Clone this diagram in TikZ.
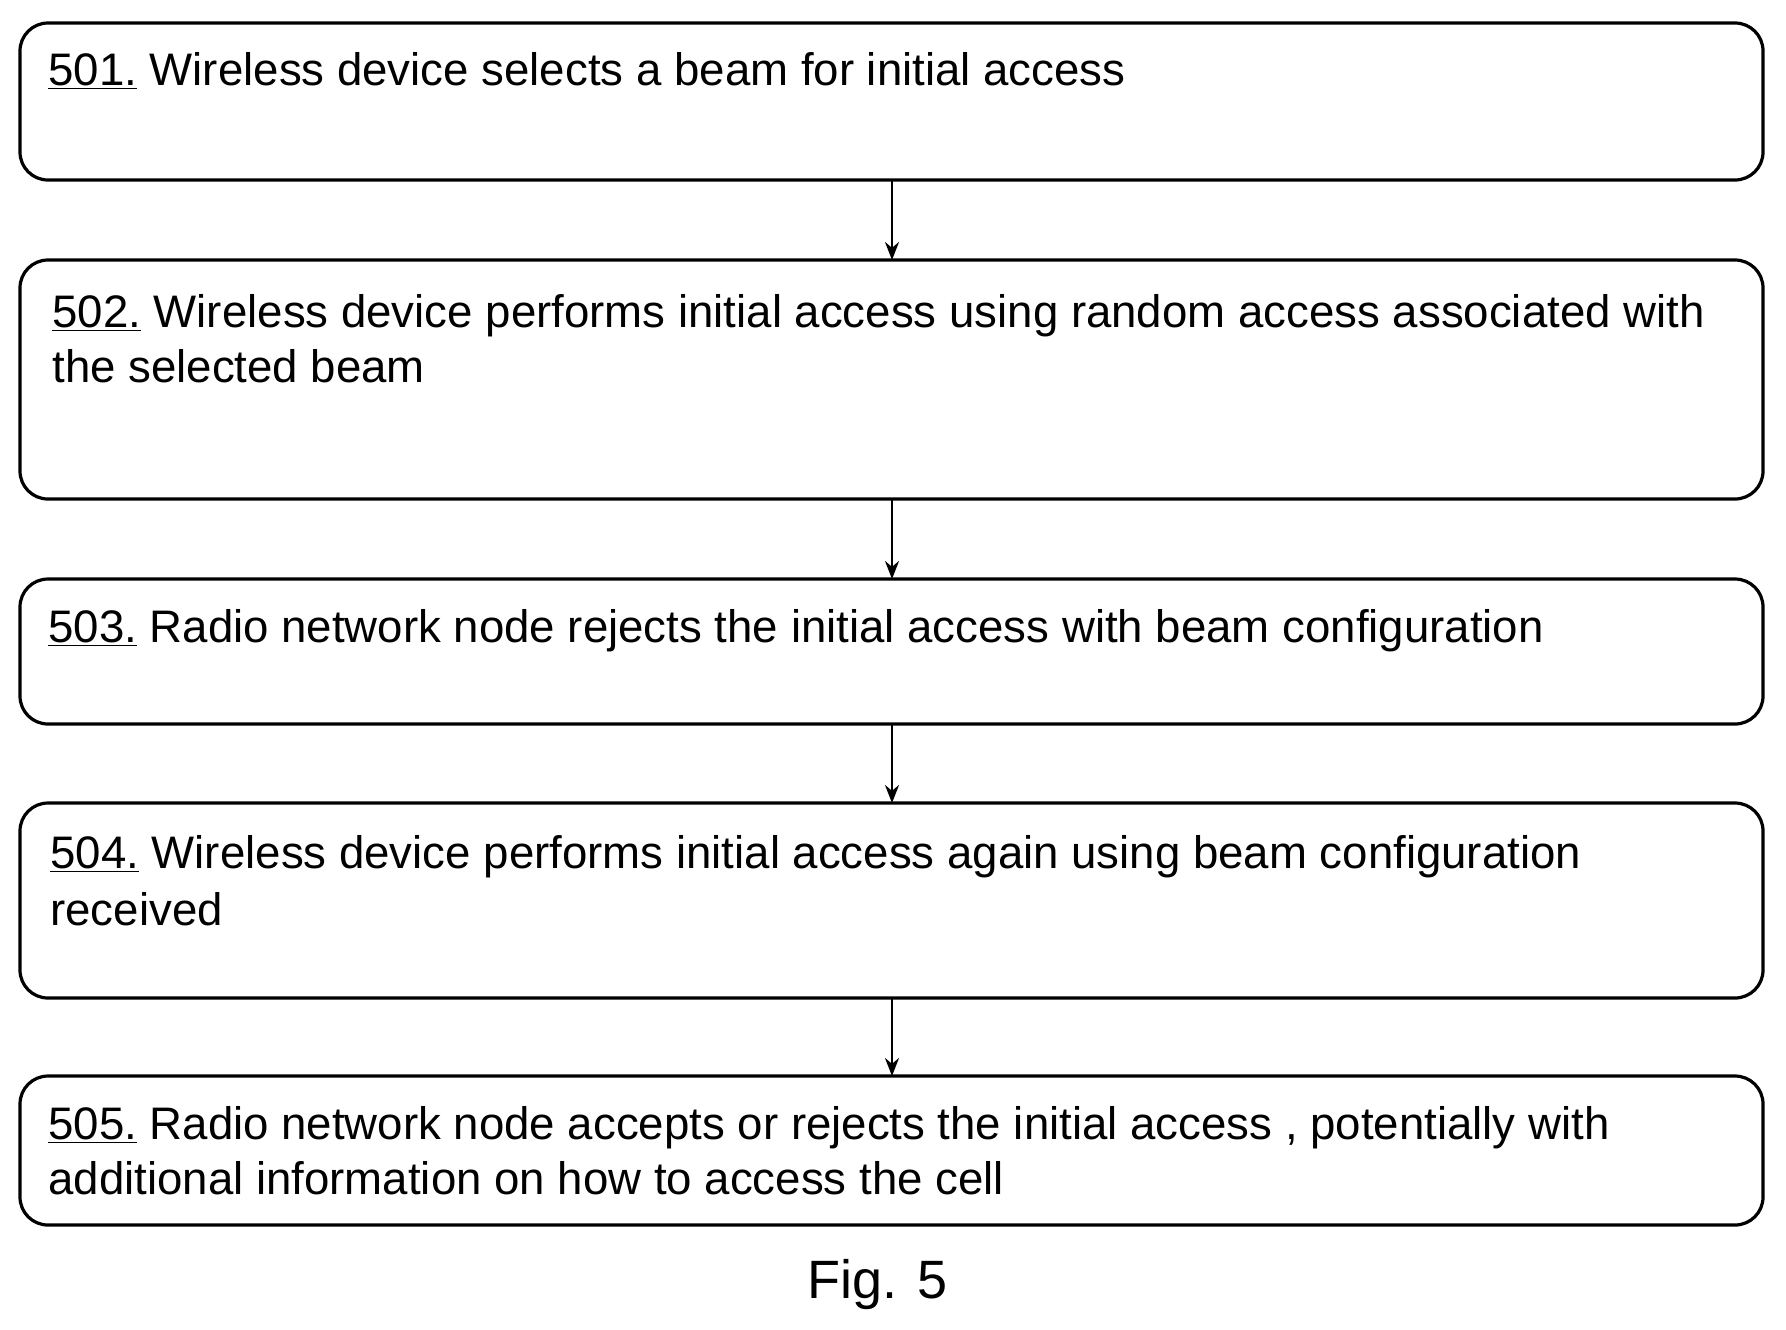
\documentclass[tikz,border=0pt]{standalone}
\usepackage{fontspec}
\setmainfont{Liberation Sans}
\usetikzlibrary{arrows.meta}
\begin{document}
\begin{tikzpicture}[x=0.5pt,y=-0.5pt,
  box/.style={draw,line width=1.6pt,rounded corners=14pt},
  txt/.style={anchor=base west,inner sep=0pt,font=\fontsize{22.8}{27.5}\selectfont},
  arr/.style={-{Stealth[length=9pt,width=7pt]},line width=1.3pt}]
\useasboundingbox (0,0) rectangle (1786,1329);
\draw[box] (20,23) rectangle (1763,180);
\draw[box] (20,260) rectangle (1763,499);
\draw[box] (20,579) rectangle (1763,724);
\draw[box] (20,803) rectangle (1763,998);
\draw[box] (20,1076) rectangle (1763,1225);
\coordinate (t1) at (892,180); \coordinate (h1) at (892,260);
\coordinate (t2) at (892,499); \coordinate (h2) at (892,579);
\coordinate (t3) at (892,724); \coordinate (h3) at (892,803);
\coordinate (t4) at (892,998); \coordinate (h4) at (892,1076);
\draw[arr] (t1) -- (h1);
\draw[arr] (t2) -- (h2);
\draw[arr] (t3) -- (h3);
\draw[arr] (t4) -- (h4);
\node[txt] (x1) at (48,85) {\underline{501.} Wireless device selects a beam for initial access};
\node[txt] (x2a) at (52,327) {\underline{502.} Wireless device performs initial access using random access associated with};
\node[txt] (x2b) at (52,382) {the selected beam};
\node[txt] (x3) at (48,642) {\underline{503.} Radio network node rejects the initial access with beam configuration};
\node[txt] (x4a) at (50,868) {\underline{504.} Wireless device performs initial access again using beam configuration};
\node[txt] (x4b) at (50,925) {received};
\node[txt] (x5a) at (48,1139) {\underline{505.} Radio network node accepts or rejects the initial access , potentially with};
\node[txt] (x5b) at (48,1194) {additional information on how to access the cell};
\node[anchor=base,inner sep=0pt,font=\fontsize{27}{32}\selectfont] (fig) at (878,1298) {Fig. 5};
\end{tikzpicture}
\end{document}
